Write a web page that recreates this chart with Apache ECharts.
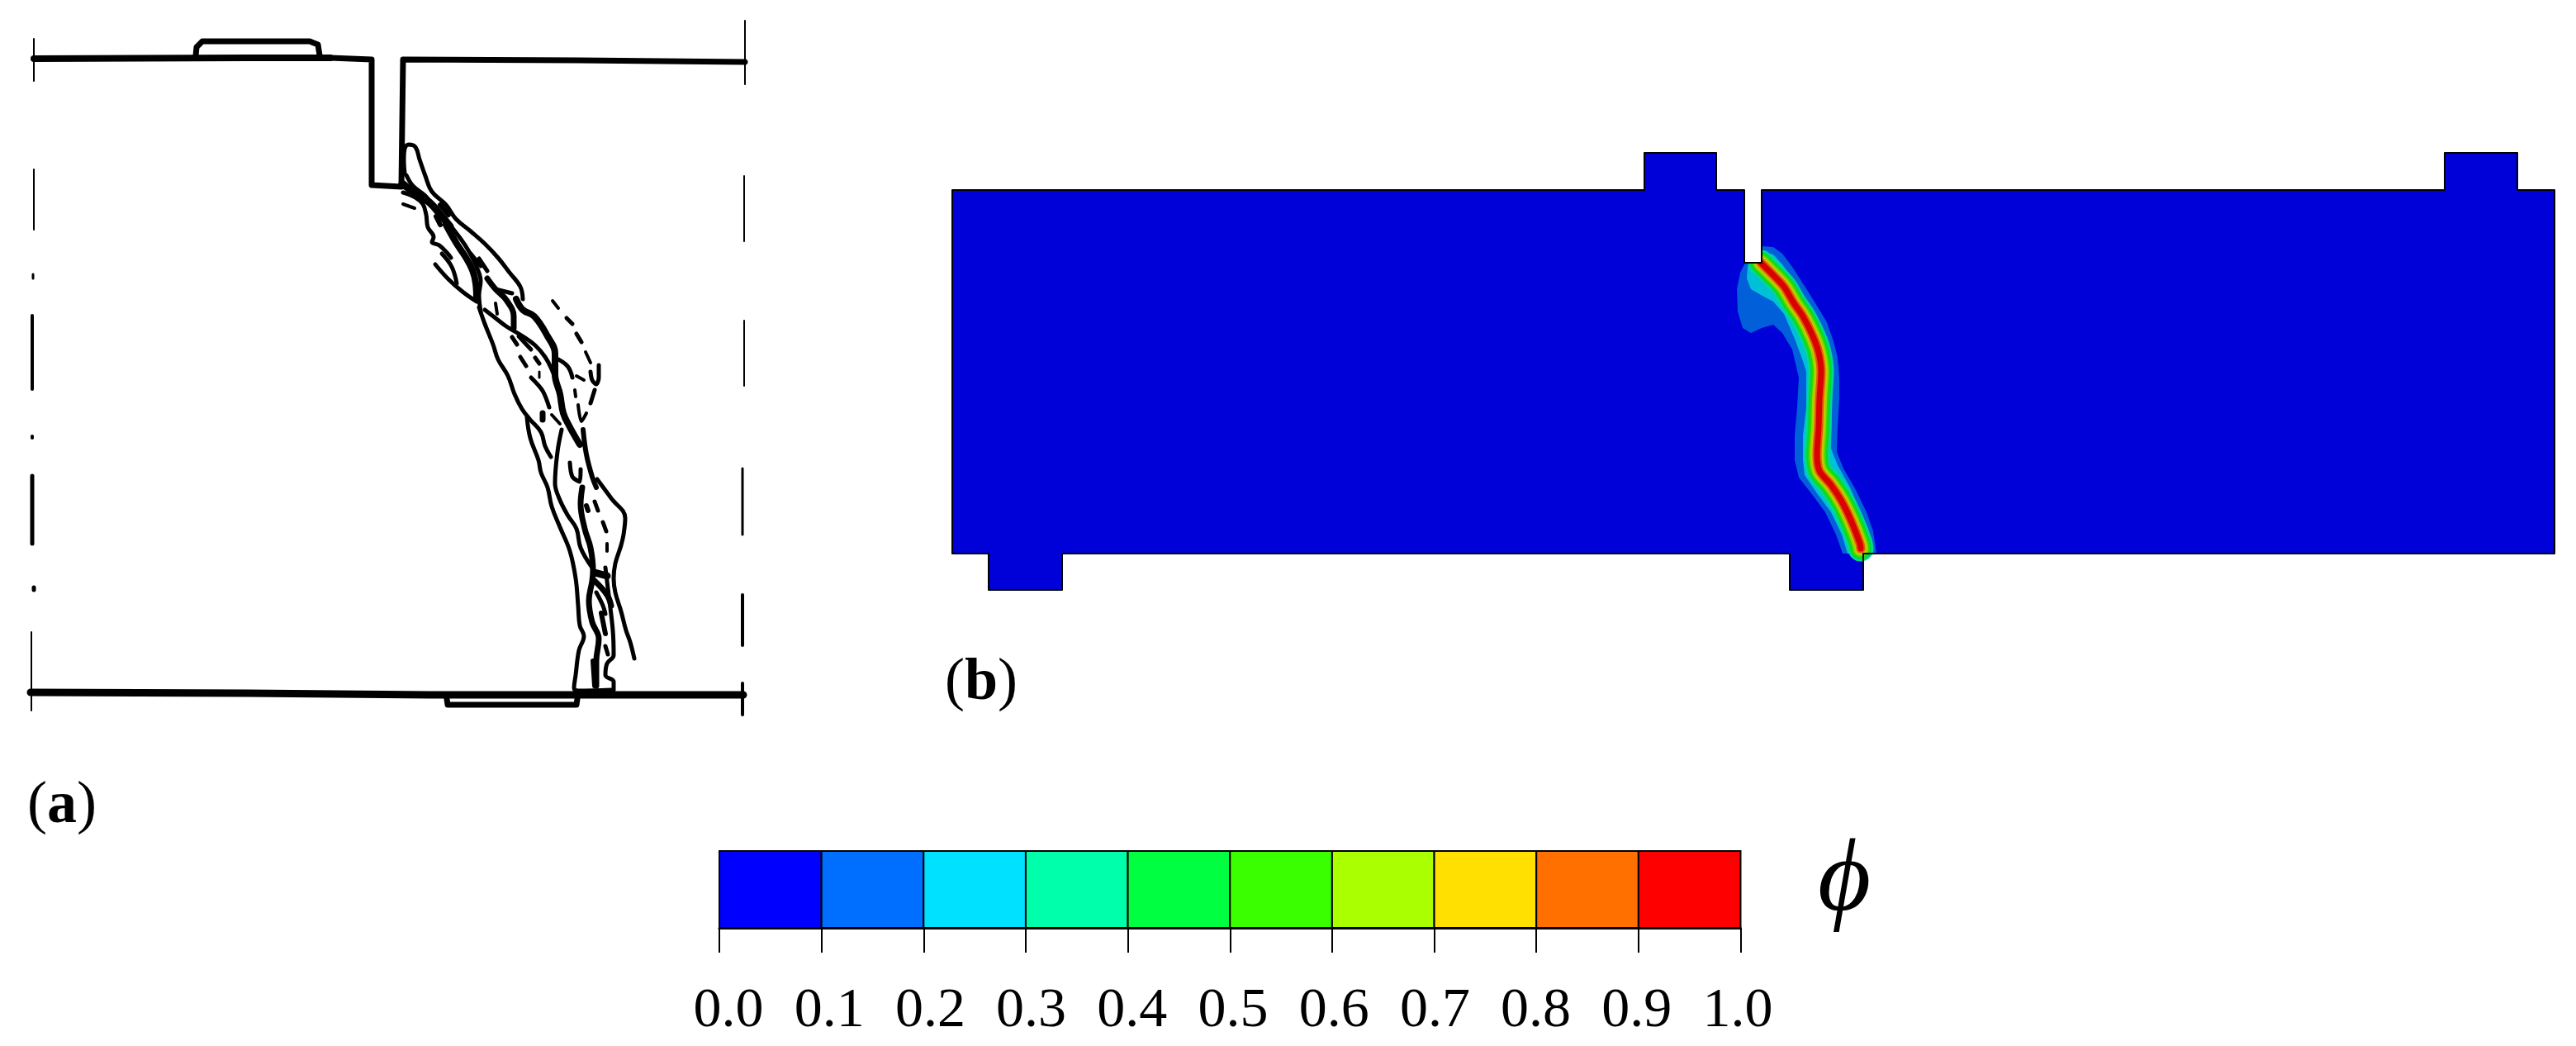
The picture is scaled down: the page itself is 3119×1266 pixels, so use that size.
<!DOCTYPE html>
<html><head><meta charset="utf-8">
<style>html,body{margin:0;padding:0;background:#fff}#c{width:3119px;height:1266px}</style>
<script src="https://cdn.jsdelivr.net/npm/echarts@6/dist/echarts.min.js"></script>
</head><body><div id="c"></div>
<script>
// ---------- scale levels ----------
const phiTicks = [0.0,0.1,0.2,0.3,0.4,0.5,0.6,0.7,0.8,0.9,1.0];
const legendColors = ['#0000ff','#006fff','#00e0ff','#00ffaa','#00ff40','#39ff00','#aaff00','#ffe000','#ff7000','#ff0000'];
const beamColors  = ['#0000d9','#005fd9','#00bfd9','#00d990','#00d936','#30d900','#90d900','#d9bf00','#d95f00','#d90000'];

// ---------- panel (b): simulated beam ----------
const beamOutline = [[1153,230],[1991,230],[1991,185],[2078,185],[2078,230],[2112,230],[2112,318],[2133,318],[2133,230],[2960,230],[2960,185],[3048,185],[3048,230],[3093,230],[3093,670],[2256,670],[2256,714],[2167,714],[2167,670],[1286,670],[1286,714],[1197,714],[1197,670],[1153,670],[1153,230]];
const notch = [[2112,226],[2133,226],[2133,318],[2112,318]];
const contour01 = [[2134,298],[2147,299],[2158,307],[2170,323],[2183,343],[2198,367],[2212,390],[2220,413],[2225,433],[2227,457],[2227,483],[2225,517],[2224,547],[2232,567],[2247,593],[2260,620],[2268,643],[2272,670],[2231,670],[2223,647],[2210,620],[2193,597],[2178,578],[2173,557],[2173,527],[2176,493],[2178,457],[2170,423],[2158,403],[2147,393],[2133,397],[2120,403],[2110,397],[2104,377],[2103,350],[2107,330],[2113,318],[2133,318]];
const contour02 = [[2134,304],[2147,308],[2158,320],[2170,337],[2183,360],[2197,383],[2208,407],[2215,433],[2219,450],[2218,500],[2217,543],[2225,563],[2240,590],[2253,620],[2262,643],[2265,670],[2237,670],[2230,647],[2217,620],[2200,597],[2185,575],[2183,557],[2183,527],[2187,493],[2187,450],[2183,437],[2173,410],[2160,380],[2147,365],[2132,357],[2120,350],[2115,337],[2116,323],[2118,318]];
const crackCentre = [[2132,318],[2147,333],[2160,347],[2172,367],[2183,383],[2195,407],[2202,427],[2205,450],[2203,483],[2202,517],[2200,550],[2203,570],[2217,587],[2230,607],[2242,632],[2252,658],[2253,664]];
const bandWidths = [31,26,22,18,14,11,7];

// ---------- panel (a): experimental sketch ----------
const sketchBeam = [
 {w:8,p:[[41,71],[300,70],[400,70]]},{w:7,p:[[400,70],[450,72],[450,224],[486,226]]},
 {w:7,p:[[486,224],[488,72],[700,73],[902,75]]},
 {w:7,p:[[237,67],[238,57],[245,50],[375,50],[385,54],[387,67]]},
 {w:9,p:[[37,838],[300,839],[520,841],[900,841]]},
 {w:7,p:[[541,846],[542,853],[698,853],[699,846]]}
];
const endTicks = [
 {w:2,p:[[41,47],[41,98]]},{w:2,p:[[41,205],[41,278]]},{w:3,p:[[40,332],[40,337]]},{w:4,p:[[39,382],[39,471]]},{w:4,p:[[39,528],[39,530]]},{w:5,p:[[39,576],[39,658]]},{w:5,p:[[41,711],[41,714]]},{w:2,p:[[38,765],[38,860]]},
 {w:2,p:[[902,25],[902,102]]},{w:2,p:[[901,213],[901,292]]},{w:2,p:[[901,388],[901,467]]},{w:3,p:[[899,567],[899,647]]},{w:4,p:[[899,720],[899,781]]},{w:4,p:[[899,827],[899,865]]}
];
const cracks = [
 {w:5,p:[[490,210],[489,193],[490,180],[495,175],[503,178],[508,193],[515,213],[523,232],[540,248],[552,265],[570,280],[587,295],[603,312],[617,330],[630,347],[633,362]]},
 {w:5,p:[[492,212],[500,225],[515,237],[527,252],[543,270],[557,288],[567,303],[577,323],[582,340],[580,357],[582,377]]},
 {w:9,p:[[487,222],[500,232],[520,245],[535,262],[545,274]]},
 {w:5,p:[[488,233],[503,239],[512,247],[516,260],[518,275],[525,287],[523,293],[532,297],[543,308],[546,312]]},
 {w:8,p:[[540,272],[553,295],[563,310],[572,327],[576,343],[577,362]]},
 {w:5,p:[[527,320],[543,338],[560,353],[577,365]]},
 {w:5,p:[[535,307],[547,323],[553,343]]},
 {w:5,p:[[580,372],[587,392],[597,417],[603,435],[615,455],[623,477],[632,495],[642,508],[655,523],[660,540],[667,553]]},
 {w:5,p:[[638,505],[642,530],[652,557],[655,572],[663,590],[668,613],[678,638],[690,667],[697,700],[700,733],[702,757],[707,770],[701,787],[697,817],[695,833],[700,836],[740,835]]},
 {w:5,p:[[587,375],[600,385],[613,395],[633,407],[648,418],[660,432],[668,447],[675,467]]},
 {w:7,p:[[590,337],[600,350],[613,363],[622,383],[622,397]]},
 {w:5,p:[[600,350],[620,355]]},
 {w:8,p:[[625,362],[633,375],[647,383],[663,407],[672,428],[672,453],[678,477],[682,500],[690,517],[702,538]]},
 {w:6,p:[[706,520],[710,550],[717,577],[722,590]]},
 {w:5,p:[[672,433],[687,443],[693,457]]},
 {w:5,p:[[723,580],[740,603],[757,627],[755,647],[752,660],[745,682],[743,700],[745,717],[752,740],[758,763],[763,777],[768,797]]},
 {w:5,p:[[680,520],[675,547],[672,585],[677,603],[687,623],[698,640],[703,663],[717,687]]},
 {w:7,p:[[705,590],[703,610],[708,640],[715,663],[718,690],[717,703],[713,727],[717,753],[725,773],[722,800],[722,830]]},
 {w:5,p:[[733,687],[737,720],[742,763],[743,793],[735,803],[733,817],[743,825],[743,835]]},
 {w:9,p:[[720,693],[735,697]]},
 {w:7,p:[[720,703],[735,720],[740,733]]},
 {w:5,p:[[722,717],[730,733],[733,743]]},
 {w:6,p:[[718,800],[720,830]]}
];
const dashes = [
 {w:4,p:[[488,247],[502,252]]},{w:6,p:[[528,262],[533,272]]},{w:6,p:[[533,248],[543,260]]},{w:5,p:[[570,307],[582,322]]},{w:5,p:[[580,313],[590,328]]},{w:4,p:[[600,367],[602,380]]},
 {w:4,p:[[669,364],[676,373]]},{w:5,p:[[686,385],[693,392]]},{w:5,p:[[698,404],[704,414]]},{w:4,p:[[709,426],[715,439]]},{w:5,p:[[715,450],[717,460],[722,465],[725,457],[725,442]]},{w:4,p:[[698,455],[707,460]]},
 {w:4,p:[[696,472],[697,480]]},{w:5,p:[[720,472],[715,488]]},{w:4,p:[[700,490],[704,510],[710,500]]},{w:5,p:[[620,408],[626,417]]},{w:5,p:[[628,407],[643,423]]},{w:5,p:[[630,432],[637,443]]},
 {w:5,p:[[648,433],[653,440]]},{w:3,p:[[653,450],[653,457]]},{w:5,p:[[643,457],[657,473],[665,493]]},{w:7,p:[[657,500],[657,508]]},{w:4,p:[[668,502],[678,513]]},{w:5,p:[[690,560],[693,577],[702,583],[703,568]]},
 {w:6,p:[[710,612],[712,618]]},{w:5,p:[[720,607],[724,618]]},{w:5,p:[[730,632],[734,643]]},{w:4,p:[[735,658],[735,667]]},{w:6,p:[[728,742],[733,767]]},{w:5,p:[[733,782],[736,792]]}
];

// ---------- series builders ----------
function polygon(name, pts, fill, z, axis){
  return {type:'custom',name,coordinateSystem:'cartesian2d',xAxisIndex:axis,yAxisIndex:axis,z,clip:false,silent:true,data:pts,
    renderItem:(p,api)=> p.dataIndex===0 ? {type:'polygon',shape:{points:pts.map(q=>api.coord(q))},style:{fill}} : null};
}
function stroke(name, pts, width, color, z, axis, smooth){
  return {type:'line',name,xAxisIndex:axis,yAxisIndex:axis,data:pts,showSymbol:false,symbol:'none',smooth:smooth,z,silent:true,
    clip:axis===1,lineStyle:{width,color,cap:'round',join:'round'}};
}
const series = [];
series.push(polygon('beam',beamOutline,beamColors[0],2,0));
series.push(polygon('phi 0.1',contour01,beamColors[1],3,1));
series.push(polygon('phi 0.2',contour02,beamColors[2],4,1));
bandWidths.forEach((w,i)=>series.push(stroke('phi '+(0.3+i*0.1).toFixed(1),crackCentre,w,beamColors[i+3],5+i,1,0.3)));
series.push(polygon('notch',notch,'#ffffff',20,0));
series.push(stroke('beam outline',beamOutline,2,'#000',21,0,false));
sketchBeam.forEach((s,i)=>series.push(stroke('sketch beam '+i,s.p,s.w,'#000',3,0,false)));
endTicks.forEach((s,i)=>series.push(stroke('end tick '+i,s.p,s.w,'#000',3,0,false)));
cracks.forEach((s,i)=>series.push(stroke('crack '+i,s.p,s.w,'#000',3,0,0.4)));
dashes.forEach((s,i)=>series.push(stroke('dash '+i,s.p,s.w,'#000',3,0,0.3)));
// colour bar
const cells = legendColors.map((c,i)=>[phiTicks[i],phiTicks[i+1],i]);
series.push({type:'custom',name:'colour bar',xAxisIndex:2,yAxisIndex:2,data:cells,silent:true,z:5,clip:false,
  encode:{x:[0,1]},
  renderItem:(p,api)=>{
    const a=api.coord([api.value(0),1]),b=api.coord([api.value(1),0]);
    return {type:'rect',shape:{x:a[0],y:a[1],width:b[0]-a[0],height:b[1]-a[1]},
      style:{fill:legendColors[api.value(2)],stroke:'#000',lineWidth:2}};
  }});

const hidden = {show:false};
const panelRich = {
  n:{font:'72px "Liberation Serif"',fill:'#000'},
  b:{font:'bold 72px "Liberation Serif"',fill:'#000'}
};
const option = {
  animation:false,backgroundColor:'#fff',
  grid:[
    {left:0,top:0,width:3119,height:1266},
    {left:0,top:0,width:3119,height:671},
    {left:871,top:1030,width:1236.5,height:93},
    {left:882,top:1030,width:1222,height:93}
  ],
  xAxis:[
    {type:'value',gridIndex:0,min:0,max:3119,...hidden},
    {type:'value',gridIndex:1,min:0,max:3119,...hidden},
    {type:'value',gridIndex:2,min:0,max:1,interval:0.1,position:'bottom',splitLine:hidden,
      axisLine:{show:true,onZero:false,lineStyle:{color:'#000',width:3}},
      axisTick:{show:true,length:30,lineStyle:{color:'#000',width:2}},axisLabel:hidden},
    {type:'value',gridIndex:3,min:0,max:1,interval:0.1,position:'bottom',splitLine:hidden,axisLine:hidden,axisTick:hidden,
      axisLabel:{show:true,margin:67,color:'#000',fontFamily:'Liberation Serif',fontSize:68,
        formatter:v=>v.toFixed(1),showMinLabel:true,showMaxLabel:true,hideOverlap:false}}
  ],
  yAxis:[
    {type:'value',gridIndex:0,min:0,max:1266,inverse:true,...hidden},
    {type:'value',gridIndex:1,min:0,max:671,inverse:true,...hidden},
    {type:'value',gridIndex:2,min:0,max:1,...hidden},
    {type:'value',gridIndex:3,min:0,max:1,...hidden}
  ],
  graphic:[
    {type:'text',left:33,top:940,style:{text:'{n|(}{b|a}{n|)}',rich:panelRich}},
    {type:'text',left:1144,top:791,style:{text:'{n|(}{b|b}{n|)}',rich:panelRich}},
    {type:'text',left:2201,top:1006,style:{text:'\u03D5',font:'italic 124px "Liberation Serif"',fill:'#000'}}
  ],
  series
};
const chart = echarts.init(document.getElementById('c'),null,{renderer:'canvas'});
chart.setOption(option);
</script></body></html>
